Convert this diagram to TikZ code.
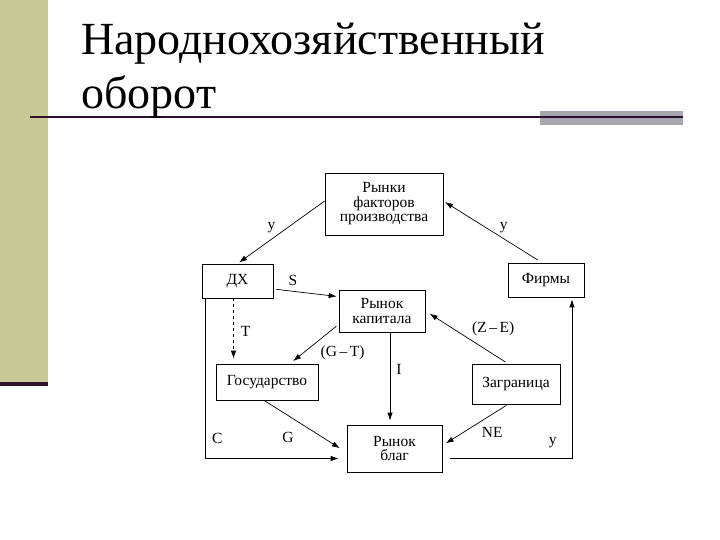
\documentclass[tikz,border=0pt]{standalone}
\usepackage{fontspec}
\setmainfont{Liberation Serif}
\usetikzlibrary{arrows.meta, positioning, calc}

\definecolor{olivebar}{RGB}{200,200,150}
\definecolor{darkbar}{RGB}{48,16,48}
\definecolor{graybar}{RGB}{168,166,176}

\begin{document}
\begin{tikzpicture}[
  x=1pt, y=-1pt,
  box/.style={rectangle, draw, line width=0.7pt, align=center, inner sep=1pt, font=\fontsize{15.5}{14.5}\selectfont},
  flow/.style={-{Latex[length=2.8mm, width=1.9mm]}, line width=0.7pt, shorten >=2pt},
  lbl/.style={font=\fontsize{15.5}{15}\selectfont, inner sep=1pt},
]
\useasboundingbox (0,0) rectangle (720,540);

% ── SLIDE DECOR ──
\fill[olivebar] (0,0) rectangle (48,382);
\fill[darkbar] (0,382) rectangle (48,386);
\fill[graybar] (540,111) rectangle (683,125);
\draw[darkbar, line width=2pt] (30,117) -- (683,117);
\node[anchor=base west, align=left, inner sep=0pt, font=\fontsize{46}{54}\selectfont] (title) at (81,109)
  {Народнохозяйственный\\оборот};

% ── NODES ──
\node[box, minimum width=118, minimum height=62] (factors) at (384,204) {Рынки\\факторов\\производства};
\node[box, minimum width=71, minimum height=34] (hh) at (237.5,281) {ДХ};
\node[box, minimum width=76, minimum height=34] (firms) at (546,280) {Фирмы};
\node[box, minimum width=86, minimum height=42] (capital) at (382,311) {Рынок\\капитала};
\node[box, minimum width=102, minimum height=36] (state) at (267,382) {Государство};
\node[box, minimum width=88, minimum height=40] (abroad) at (516,384) {Заграница};
\node[box, minimum width=95, minimum height=47] (goods) at (394.5,448.5) {Рынок\\благ};

% ── FLOWS ──
% incomes to households and factor market
\draw[flow] ([yshift=3pt]factors.west) -- node[lbl, pos=0.55, above left=1pt and 0pt]{у} (hh.north);
\draw[flow, shorten <=5pt] ([xshift=-4pt]firms.north) -- node[lbl, pos=0.45, above right=1pt and 1pt]{у} ([yshift=3pt]factors.east);

% savings and taxes
\draw[flow, shorten <=3pt] ([yshift=-8pt]hh.east) -- node[lbl, pos=0.3, above=4pt]{S} ([yshift=-7pt]capital.north west);
\draw[flow, dashed, shorten >=5pt] ([xshift=-4pt]hh.south) -- node[lbl, right=6pt]{T} ([xshift=-4pt]hh.south |- state.north);

% consumption
\draw[flow, shorten >=8pt] ([xshift=4pt]hh.south west) |- node[lbl, pos=0.437, right=5pt]{C} ([yshift=-10pt]goods.west);

% government and capital market
\draw[flow, shorten <=3pt, shorten >=4pt] ([yshift=8pt]capital.south west) -- node[lbl, pos=0.5, below right=0pt and 5pt]{(G\,–\,T)} ([xshift=23pt]state.north);
\draw[flow, shorten >=8pt] ([xshift=-3pt]state.south) -- node[lbl, pos=0.35, below=12pt, xshift=-5pt]{G} ([yshift=-4pt]goods.west);
\draw[flow, shorten >=4pt] ([xshift=8pt]capital.south) -- node[lbl, pos=0.4, right=5pt]{I} ([xshift=8pt]capital.south |- goods.north);

% foreign sector
\draw[flow, shorten <=3pt, shorten >=5pt] ([xshift=-8pt]abroad.north) -- node[lbl, pos=0.45, above right=3pt and 0pt]{(Z\,–\,E)} (capital.east);
\draw[flow, shorten <=2pt, shorten >=4pt] ([xshift=-8pt]abroad.south) -- node[lbl, pos=0.3, below=9pt, xshift=4pt]{NE} ([yshift=3pt]goods.east);

% firms' revenue
\draw[flow, shorten <=8pt] ([yshift=-10pt]goods.east) -| node[lbl, pos=0.55, left=14pt]{у} ([xshift=26pt]firms.south);
\end{tikzpicture}
\end{document}
